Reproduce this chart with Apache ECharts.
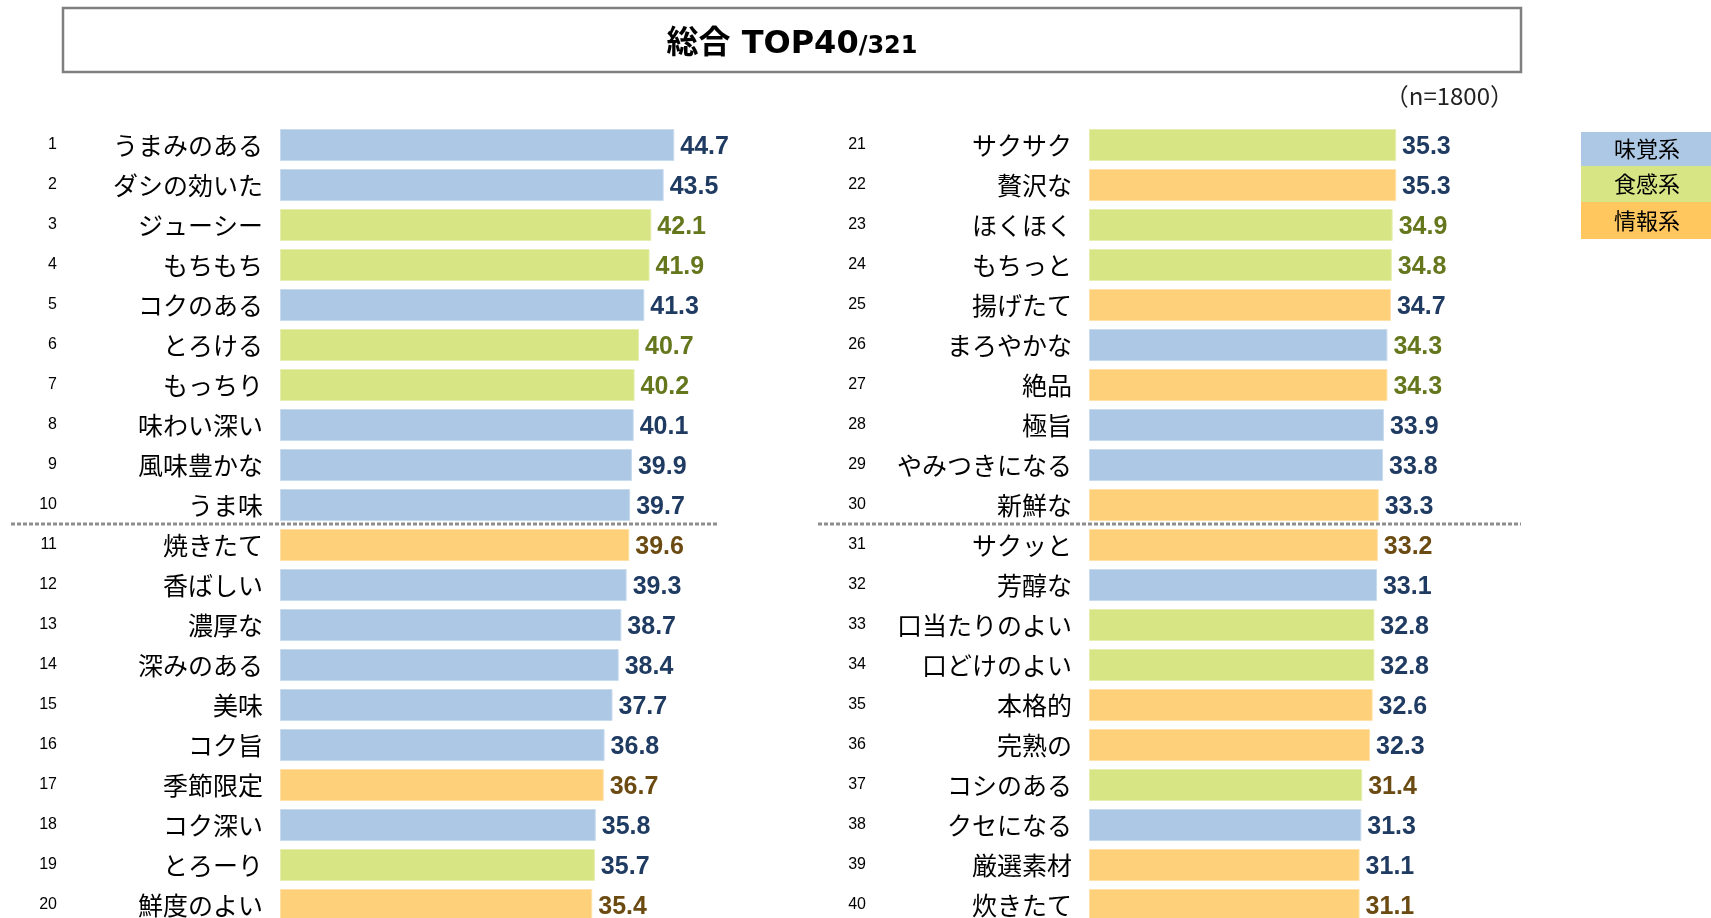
<!DOCTYPE html>
<html><head><meta charset="utf-8">
<script src="https://cdn.jsdelivr.net/npm/echarts@6/dist/echarts.min.js"></script>
<style>html,body{margin:0;padding:0;background:#fff}#c{width:1711px;height:918px}</style>
</head><body><div id="c"></div>
<script>
// ---- data ----
const titleMain = '総合 TOP40';
const titleSub = '/321';
const sampleNote = '（n=1800）';
const groups = ['味覚系', '食感系', '情報系'];

const leftRanks = ['1','2','3','4','5','6','7','8','9','10','11','12','13','14','15','16','17','18','19','20'];
const leftNames = ['うまみのある','ダシの効いた','ジューシー','もちもち','コクのある','とろける','もっちり','味わい深い','風味豊かな','うま味',
  '焼きたて','香ばしい','濃厚な','深みのある','美味','コク旨','季節限定','コク深い','とろーり','鮮度のよい'];
const leftValues = [44.7,43.5,42.1,41.9,41.3,40.7,40.2,40.1,39.9,39.7,39.6,39.3,38.7,38.4,37.7,36.8,36.7,35.8,35.7,35.4];
const leftGroups = ['味覚系','味覚系','食感系','食感系','味覚系','食感系','食感系','味覚系','味覚系','味覚系',
  '情報系','味覚系','味覚系','味覚系','味覚系','味覚系','情報系','味覚系','食感系','情報系'];
const leftLabelGroups = ['味覚系','味覚系','食感系','食感系','味覚系','食感系','食感系','味覚系','味覚系','味覚系',
  '情報系','味覚系','味覚系','味覚系','味覚系','味覚系','情報系','味覚系','味覚系','情報系'];

const rightRanks = ['21','22','23','24','25','26','27','28','29','30','31','32','33','34','35','36','37','38','39','40'];
const rightNames = ['サクサク','贅沢な','ほくほく','もちっと','揚げたて','まろやかな','絶品','極旨','やみつきになる','新鮮な',
  'サクッと','芳醇な','口当たりのよい','口どけのよい','本格的','完熟の','コシのある','クセになる','厳選素材','炊きたて'];
const rightValues = [35.3,35.3,34.9,34.8,34.7,34.3,34.3,33.9,33.8,33.3,33.2,33.1,32.8,32.8,32.6,32.3,31.4,31.3,31.1,31.1];
const rightGroups = ['食感系','情報系','食感系','食感系','情報系','味覚系','情報系','味覚系','味覚系','情報系',
  '情報系','味覚系','食感系','食感系','情報系','情報系','食感系','味覚系','情報系','情報系'];
const rightLabelGroups = ['味覚系','味覚系','食感系','食感系','味覚系','食感系','食感系','味覚系','味覚系','味覚系',
  '情報系','味覚系','味覚系','味覚系','味覚系','味覚系','情報系','味覚系','味覚系','情報系'];

// ---- styles ----
const barColor = {'味覚系':'#ADC8E4','食感系':'#D8E584','情報系':'#FFD07A'};
const barBorder = {'味覚系':'#C8DAEE','食感系':'#E5EEAE','情報系':'#FFE0A6'};
const labelColor = {'味覚系':'#1F3B62','食感系':'#64771C','情報系':'#6B4B12'};
const legendColor = {'味覚系':'#ADC8E4','食感系':'#D8E584','情報系':'#FFC75E'};

const CJK = "'Noto Sans CJK JP', sans-serif";
const NUM = "'Liberation Sans', Arial, sans-serif";

function makeData(vals, grp, lgrp) {
  return vals.map((v, i) => ({
    value: v,
    itemStyle: {color: barColor[grp[i]], borderColor: barBorder[grp[i]], borderWidth: 1},
    label: {color: labelColor[lgrp[i]]}
  }));
}

const chart = echarts.init(document.getElementById('c'), null, {renderer: 'canvas'});

const grids = [
  {left: 280, top: 125, width: 441, height: 800, outerBoundsMode: 'none', containLabel: false},
  {left: 1089, top: 125, width: 435, height: 800, outerBoundsMode: 'none', containLabel: false}
];

function xAx(g) {
  return {type: 'value', gridIndex: g, min: 0, max: 50, show: false};
}
function nameAxis(g, names) {
  return {type: 'category', gridIndex: g, position: 'left', inverse: true, data: names,
    axisLine: {show: false}, axisTick: {show: false}, splitLine: {show: false},
    axisLabel: {fontSize: 25, color: '#000', fontFamily: CJK, margin: 17, align: 'right'}};
}
function rankAxis(g, ranks) {
  return {type: 'category', gridIndex: g, position: 'left', offset: 0, inverse: true, data: ranks,
    axisLine: {show: false}, axisTick: {show: false}, splitLine: {show: false},
    axisLabel: {fontSize: 16, color: '#000', fontFamily: NUM, margin: 223, align: 'right'}};
}
function barSeries(g, yIdx, data) {
  return {type: 'bar', xAxisIndex: g, yAxisIndex: yIdx, data: data, barWidth: 32,
    animation: false,
    label: {show: true, position: 'right', distance: 6, offset: [0, 2], fontFamily: NUM, fontWeight: 'bold', fontSize: 25,
      formatter: p => p.value.toFixed(1)}};
}

const graphic = [
  {type: 'rect', shape: {x: 63, y: 8, width: 1458, height: 64},
    style: {fill: '#fff', stroke: '#7F7F7F', lineWidth: 2.5}, z: 0},
  {type: 'text', x: 792, y: 41, style: {
    text: '{a|' + titleMain + '}{b|' + titleSub + '}', align: 'center', verticalAlign: 'middle',
    rich: {
      a: {fontSize: 32, fontWeight: 'bold', fontFamily: "'DejaVu Sans','Noto Sans CJK JP',sans-serif", fill: '#000', verticalAlign: 'bottom', lineHeight: 40},
      b: {fontSize: 24, fontWeight: 'bold', fontFamily: "'DejaVu Sans',sans-serif", fill: '#000', verticalAlign: 'bottom', lineHeight: 40, padding: [0,0,2,0]}
    }}},
  {type: 'text', x: 1514, y: 96, style: {text: sampleNote, align: 'right', verticalAlign: 'middle',
    fontSize: 24, fontFamily: CJK, fill: '#222'}},
  {type: 'line', shape: {x1: 11, y1: 524, x2: 717, y2: 524},
    style: {stroke: '#8E8E8E', lineWidth: 3, lineDash: [4, 2]}},
  {type: 'line', shape: {x1: 818, y1: 524, x2: 1521, y2: 524},
    style: {stroke: '#8E8E8E', lineWidth: 3, lineDash: [4, 2]}}
];
const legY = [132, 166, 202];
const legH = [34, 36, 37];
groups.forEach((g, i) => {
  graphic.push({type: 'rect', shape: {x: 1581, y: legY[i], width: 130, height: legH[i]},
    style: {fill: legendColor[g]}});
  graphic.push({type: 'text', x: 1647, y: legY[i] + legH[i] / 2, style: {text: g, align: 'center',
    verticalAlign: 'middle', fontSize: 22, fontFamily: CJK, fill: '#000'}});
});

chart.setOption({
  animation: false,
  backgroundColor: '#fff',
  grid: grids,
  xAxis: [xAx(0), xAx(1)],
  yAxis: [nameAxis(0, leftNames), rankAxis(0, leftRanks), nameAxis(1, rightNames), rankAxis(1, rightRanks)],
  series: [
    barSeries(0, 0, makeData(leftValues, leftGroups, leftLabelGroups)),
    barSeries(1, 2, makeData(rightValues, rightGroups, rightLabelGroups))
  ],
  graphic: graphic
});
</script>
</body></html>
